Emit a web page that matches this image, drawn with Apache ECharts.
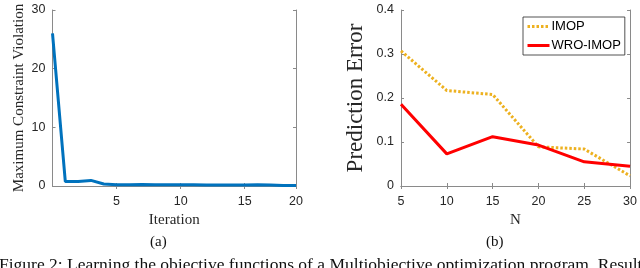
<!DOCTYPE html>
<html><head><meta charset="utf-8">
<script src="https://cdn.jsdelivr.net/npm/echarts@6/dist/echarts.min.js"></script>
<style>html,body{margin:0;padding:0;background:#fff}#c{width:640px;height:268px}</style>
</head><body><div id="c"></div>
<script>
// ---- data ----
var iterTickLabels = ['', '', '', '', '', '5', '', '', '', '', '10', '', '', '', '', '15', '', '', '', '20'];
var violation = [26.0, 0.75, 0.75, 0.95, 0.35, 0.2, 0.2, 0.25, 0.2, 0.2, 0.2, 0.2, 0.15, 0.15, 0.15, 0.15, 0.2, 0.15, 0.1, 0.1];
var nValues = [5, 10, 15, 20, 25, 30];
var imopErr = [0.307, 0.217, 0.208, 0.089, 0.084, 0.023];
var wroErr = [0.186, 0.073, 0.112, 0.093, 0.055, 0.045];
var leftYTicks = [0, 10, 20, 30];
var rightYTicks = [0, 0.1, 0.2, 0.3, 0.4];

var chart = echarts.init(document.getElementById('c'), null, {renderer: 'canvas'});
var sans = 'Liberation Sans';
var serif = 'Liberation Serif';
var axCol = '#8a8a8a';
var lblCol = '#262626';
function showTick(i, v) { return v !== ''; }
function mirrorAxis(extra) {
  return Object.assign({
    axisLine: {show: true, lineStyle: {color: axCol, width: 1}},
    axisTick: {show: true, inside: true, length: 3, lineStyle: {color: axCol}},
    axisLabel: {show: false},
    splitLine: {show: false}
  }, extra);
}
var xy = function(a) { return nValues.map(function(n, i) { return [n, a[i]]; }); };

chart.setOption({
  animation: false,
  grid: [
    {left: 52.5, right: 344, top: 10, bottom: 82, containLabel: false},
    {left: 401, right: 8, top: 10, bottom: 82, containLabel: false}
  ],
  legend: {
    data: ['IMOP', 'WRO-IMOP'],
    orient: 'vertical',
    left: 523, top: 17,
    itemWidth: 22, itemHeight: 10, itemGap: 6,
    padding: [3, 4, 3, 3],
    itemStyle: {opacity: 0},
    lineStyle: {width: 3},
    borderColor: '#262626', borderWidth: 0.8, backgroundColor: '#fff',
    textStyle: {fontFamily: sans, fontSize: 13, color: '#000', padding: [0, 0, 0, -3]}
  },
  xAxis: [
    {
      type: 'category', gridIndex: 0, data: iterTickLabels, boundaryGap: false,
      name: 'Iteration', nameLocation: 'middle', nameGap: 24,
      nameTextStyle: {fontFamily: serif, fontSize: 15, color: lblCol},
      axisLine: {lineStyle: {color: axCol}},
      axisTick: {inside: true, length: 3, interval: showTick, lineStyle: {color: axCol}},
      axisLabel: {interval: showTick, margin: 9, fontFamily: sans, fontSize: 12.5, color: lblCol},
      splitLine: {show: false}
    },
    mirrorAxis({type: 'category', gridIndex: 0, position: 'top', data: iterTickLabels, boundaryGap: false,
      axisTick: {show: true, inside: true, length: 3, interval: showTick, lineStyle: {color: axCol}}}),
    {
      type: 'value', gridIndex: 1, min: 5, max: 30, interval: 5,
      name: 'N', nameLocation: 'middle', nameGap: 24,
      nameTextStyle: {fontFamily: serif, fontSize: 15, color: lblCol},
      axisLine: {lineStyle: {color: axCol}},
      axisTick: {inside: true, length: 3, lineStyle: {color: axCol}},
      axisLabel: {margin: 9, fontFamily: sans, fontSize: 12.5, color: lblCol},
      splitLine: {show: false}
    },
    mirrorAxis({type: 'value', gridIndex: 1, position: 'top', min: 5, max: 30, interval: 5})
  ],
  yAxis: [
    {
      type: 'value', gridIndex: 0, min: leftYTicks[0], max: leftYTicks[leftYTicks.length - 1], interval: 10,
      name: 'Maximum Constraint Violation', nameLocation: 'middle', nameGap: 26,
      nameTextStyle: {fontFamily: serif, fontSize: 15, color: lblCol},
      axisLine: {show: true, lineStyle: {color: axCol}},
      axisTick: {show: true, inside: true, length: 3, lineStyle: {color: axCol}},
      axisLabel: {margin: 7, fontFamily: sans, fontSize: 12.5, color: lblCol},
      splitLine: {show: false}
    },
    mirrorAxis({type: 'value', gridIndex: 0, position: 'right', min: 0, max: 30, interval: 10}),
    {
      type: 'value', gridIndex: 1, min: rightYTicks[0], max: rightYTicks[rightYTicks.length - 1], interval: 0.1,
      name: 'Prediction Error', nameLocation: 'middle', nameGap: 34,
      nameTextStyle: {fontFamily: serif, fontSize: 23, color: lblCol},
      axisLine: {show: true, lineStyle: {color: axCol}},
      axisTick: {show: true, inside: true, length: 3, lineStyle: {color: axCol}},
      axisLabel: {margin: 7, fontFamily: sans, fontSize: 12.5, color: lblCol},
      splitLine: {show: false}
    },
    mirrorAxis({type: 'value', gridIndex: 1, position: 'right', min: 0, max: 0.4, interval: 0.1})
  ],
  series: [
    {
      name: 'Violation', type: 'line', xAxisIndex: 0, yAxisIndex: 0, data: violation,
      symbol: 'none', lineStyle: {color: '#0072BD', width: 3}, itemStyle: {color: '#0072BD'}
    },
    {
      name: 'IMOP', type: 'line', xAxisIndex: 2, yAxisIndex: 2, data: xy(imopErr),
      symbol: 'none', lineStyle: {color: '#EDB120', width: 3, type: [2.5, 2]}, itemStyle: {color: '#EDB120'}
    },
    {
      name: 'WRO-IMOP', type: 'line', xAxisIndex: 2, yAxisIndex: 2, data: xy(wroErr),
      symbol: 'none', lineStyle: {color: '#FF0000', width: 3}, itemStyle: {color: '#FF0000'}
    }
  ],
  graphic: [
    {type: 'text', left: 150, top: 235, style: {text: '(a)', font: '15px "Liberation Serif"', fill: '#111'}},
    {type: 'text', left: 486, top: 235, style: {text: '(b)', font: '15px "Liberation Serif"', fill: '#111'}},
    {type: 'text', x: -1, y: 256, style: {text: 'Figure 2: Learning the objective functions of a Multiobjective optimization program. Results', font: '17.5px "Liberation Serif"', fill: '#111', textVerticalAlign: 'top'}}
  ]
});
</script></body></html>
